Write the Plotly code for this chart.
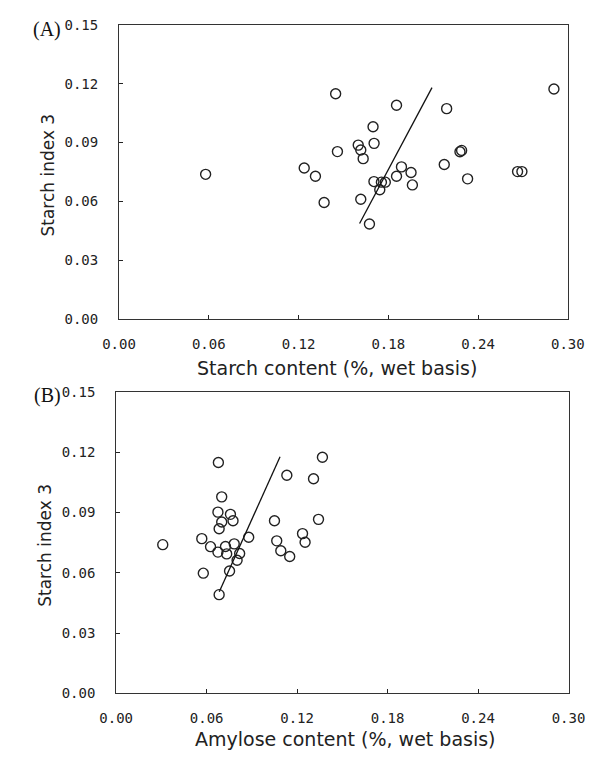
import plotly.graph_objects as go

# ---------------- data ----------------
starch_content = [0.0579, 0.1238, 0.1313, 0.1371, 0.1448, 0.1460, 0.1599, 0.1616, 0.1632, 0.1616,
                  0.1674, 0.1698, 0.1705, 0.1704, 0.1743, 0.1754, 0.1780, 0.1855, 0.1855, 0.1888,
                  0.1952, 0.1961, 0.2174, 0.2190, 0.2279, 0.2290, 0.2330, 0.2664, 0.2693, 0.2907]
starch_index_a = [0.0738, 0.0770, 0.0728, 0.0594, 0.1149, 0.0854, 0.0887, 0.0862, 0.0818, 0.0611,
                  0.0485, 0.0981, 0.0896, 0.0701, 0.0659, 0.0698, 0.0698, 0.1090, 0.0728, 0.0776,
                  0.0747, 0.0684, 0.0788, 0.1073, 0.0853, 0.0860, 0.0715, 0.0752, 0.0752, 0.1173]

amylose_content = [0.0678, 0.1132, 0.1309, 0.1368, 0.0700, 0.0675, 0.0758, 0.0700, 0.0775, 0.0683,
                   0.1050, 0.1342, 0.0568, 0.0879, 0.0309, 0.0626, 0.0725, 0.0783, 0.0675, 0.0733,
                   0.0819, 0.0802, 0.1065, 0.1236, 0.1253, 0.1092, 0.1151, 0.0578, 0.0752, 0.0683]
starch_index_b = [0.1149, 0.1086, 0.1068, 0.1175, 0.0978, 0.0902, 0.0891, 0.0853, 0.0859, 0.0819,
                  0.0859, 0.0866, 0.0770, 0.0777, 0.0740, 0.0730, 0.0731, 0.0744, 0.0703, 0.0694,
                  0.0696, 0.0662, 0.0759, 0.0795, 0.0752, 0.0710, 0.0681, 0.0598, 0.0609, 0.0491]

fit_a_x = [0.1608, 0.2092]
fit_a_y = [0.0487, 0.1180]
fit_b_x = [0.0684, 0.1087]
fit_b_y = [0.0505, 0.1178]

tick_vals = [0.00, 0.06, 0.12, 0.18, 0.24, 0.30]
tick_text = ["0.00", "0.06", "0.12", "0.18", "0.24", "0.30"]
ytick_vals = [0.00, 0.03, 0.06, 0.09, 0.12, 0.15]
ytick_text = ["0.00", "0.03", "0.06", "0.09", "0.12", "0.15"]

x_title_a = "Starch content (%, wet basis)"
x_title_b = "Amylose content (%, wet basis)"
y_title = "Starch index 3"
panel_labels = ["(A)", "(B)"]

# ---------------- figure ----------------
W, H = 611, 760
def px(x):
    return x / W
def py(y):
    return 1 - y / H

marker = dict(symbol="circle-open", size=10, color="#222222", line=dict(width=1.4, color="#222222"))

fig = go.Figure()
fig.add_trace(go.Scatter(x=starch_content, y=starch_index_a, mode="markers", marker=marker,
                         xaxis="x", yaxis="y", showlegend=False))
fig.add_trace(go.Scatter(x=fit_a_x, y=fit_a_y, mode="lines", line=dict(color="#111111", width=1.3),
                         xaxis="x", yaxis="y", showlegend=False))
fig.add_trace(go.Scatter(x=amylose_content, y=starch_index_b, mode="markers", marker=marker,
                         xaxis="x2", yaxis="y2", showlegend=False))
fig.add_trace(go.Scatter(x=fit_b_x, y=fit_b_y, mode="lines", line=dict(color="#111111", width=1.3),
                         xaxis="x2", yaxis="y2", showlegend=False))

tickfont = dict(family="DejaVu Sans Mono", size=14, color="#222222")
common_x = dict(range=[0, 0.30], tickvals=tick_vals, ticktext=tick_text, ticks="inside", ticklen=4,
                tickcolor="#222222", showline=True, linecolor="#333333", linewidth=1, mirror=True,
                showgrid=False, zeroline=False, tickfont=tickfont, ticklabelstandoff=12, fixedrange=True)
common_y = dict(range=[0, 0.15], tickvals=ytick_vals, ticktext=ytick_text, ticks="inside", ticklen=4,
                tickcolor="#222222", showline=True, linecolor="#333333", linewidth=1, mirror=True,
                showgrid=False, zeroline=False, tickfont=tickfont, ticklabelstandoff=17, fixedrange=True)

fig.update_layout(
    width=W, height=H,
    margin=dict(l=0, r=0, t=0, b=0),
    paper_bgcolor="white", plot_bgcolor="white",
    xaxis=dict(common_x, domain=[px(108), px(583.3)], anchor="y"),
    yaxis=dict(common_y, domain=[py(317.7), py(17.3)], anchor="x"),
    xaxis2=dict(common_x, domain=[px(105), px(584)], anchor="y2"),
    yaxis2=dict(common_y, domain=[py(700), py(392.3)], anchor="x2"),
)

title_font_x = dict(family="DejaVu Sans", size=19, color="#222222")
title_font_y = dict(family="DejaVu Sans", size=17, color="#222222")
label_font = dict(family="Liberation Serif", size=20, color="#111111")

annotations = [
    dict(text=x_title_a, x=px(339), y=py(368), xref="paper", yref="paper", showarrow=False,
         xanchor="center", yanchor="middle", font=title_font_x),
    dict(text=x_title_b, x=px(348), y=py(747), xref="paper", yref="paper", showarrow=False,
         xanchor="center", yanchor="middle", font=title_font_x),
    dict(text=y_title, x=px(33), y=py(171), xref="paper", yref="paper", showarrow=False,
         xanchor="center", yanchor="middle", textangle=-90, font=title_font_y),
    dict(text=y_title, x=px(30), y=py(549), xref="paper", yref="paper", showarrow=False,
         xanchor="center", yanchor="middle", textangle=-90, font=title_font_y),
    dict(text=panel_labels[0], x=px(32), y=py(22), xref="paper", yref="paper", showarrow=False,
         xanchor="center", yanchor="middle", font=label_font),
    dict(text=panel_labels[1], x=px(32), y=py(396), xref="paper", yref="paper", showarrow=False,
         xanchor="center", yanchor="middle", font=label_font),
]
fig.update_layout(annotations=annotations)

fig.write_html("out.html", config={"displayModeBar": False},
               post_script="document.body.style.margin='0';document.body.style.overflow='hidden';")
